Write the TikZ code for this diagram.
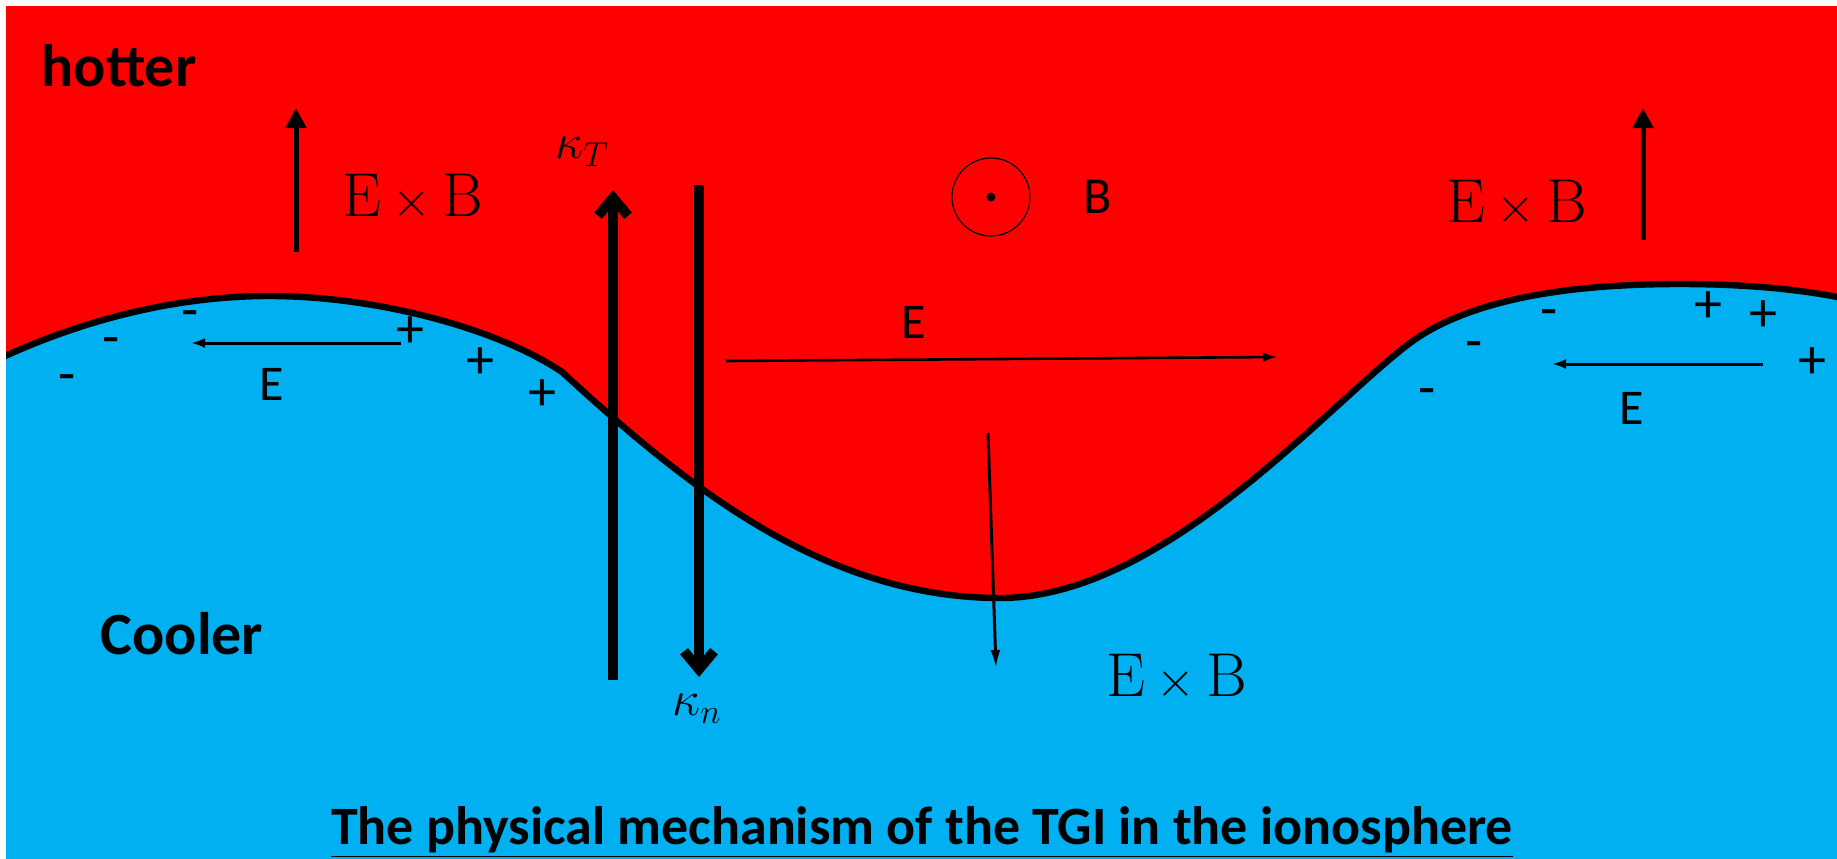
\documentclass[tikz,border=0pt]{standalone}
\usepackage{fontspec}
\newfontfamily\calibri{Carlito}
\usetikzlibrary{arrows.meta}
\definecolor{hotred}{RGB}{255,0,0}
\definecolor{coolblue}{RGB}{0,176,240}

\begin{document}
\begin{tikzpicture}[x=0.5pt,y=-0.5pt,
  region/.style={inner sep=0pt,font=\calibri\bfseries\fontsize{30}{34}\selectfont},
  exb/.style={inner sep=0pt,font=\fontsize{31}{35}\selectfont},
  kap/.style={inner sep=0pt,font=\fontsize{24}{28}\selectfont},
  elbl/.style={inner sep=0pt,font=\calibri\fontsize{25}{29}\selectfont},
  charge/.style={inner sep=0pt,font=\calibri\fontsize{28}{32}\selectfont},
  drift/.style={line width=2.5pt,-{Triangle[length=10pt,width=10pt]}},
  grad/.style={line width=5pt,-{Straight Barb[length=9pt,width=15pt]}},
  field/.style={line width=1.5pt,-{Latex[length=7pt,width=5pt]}}]
\useasboundingbox (0,0) rectangle (1837,858);
\fill[white] (0,0) rectangle (1837,858);
\fill[hotred] (6,6) rectangle (1837,858);

% interface between hot and cool plasma
\begin{scope}
\clip (6,6) rectangle (1837,858);
\filldraw[fill=coolblue,line width=3.2pt] (-20,368) .. controls (80,318) and (180,296) .. (269,296)
  .. controls (380,296) and (500,330) .. (562,372)
  .. controls (680,480) and (820,598) .. (1000,598)
  .. controls (1160,598) and (1320,413) .. (1406,346)
  .. controls (1470,296) and (1580,284) .. (1680,284)
  .. controls (1760,284) and (1820,292) .. (1860,302)
  -- (1860,880) -- (-20,880) -- cycle;
\end{scope}

\node[region] (hot) at (119,66) {hotter};
\node[region] (cool) at (182,634) {Cooler};

\node[exb] (exbL) at (413,197) {$\mathrm{E}\times\mathrm{B}$};
\node[exb] (exbR) at (1517,203) {$\mathrm{E}\times\mathrm{B}$};
\node[exb] (exbD) at (1177,677) {$\mathrm{E}\times\mathrm{B}$};
\node[kap] (kT) at (582,152) {$\kappa_T$};
\node[kap] (kn) at (697,709) {$\kappa_n$};

\node[draw,circle,line width=0.6pt,minimum size=39pt,inner sep=0pt] (Bsym) at (991,197) {};
\fill (Bsym.center) circle (2.2pt);
\node[elbl,font=\calibri\fontsize{26}{30}\selectfont] (B) at (1098,197) {B};

\node[elbl] (EL) at (272,384) {E};
\node[elbl] (EM) at (914,322) {E};
\node[elbl] (ER) at (1632,408) {E};

% charges along the crests
\foreach \x/\y in {67/384,111/347,190/320,1427/398,1474/351,1549/319}
  \node[charge] at (\x,\y) {-};
\foreach \x/\y in {410/332,480/363,542/395,1708/307,1763/316,1812/363}
  \node[charge] at (\x,\y) {+};

% arrows
\coordinate (upL0) at (296,252);
\coordinate (upL1) at (296,108);
\coordinate (upR0) at (1643,240);
\coordinate (upR1) at (1643,108);
\coordinate (kT0) at (613,680);
\coordinate (kT1) at (613,190);
\coordinate (kn0) at (699,185);
\coordinate (kn1) at (699,677);
\coordinate (dn0) at (988,433);
\coordinate (dn1) at (996,668);
\coordinate (eM0) at (726,361);
\coordinate (eM1) at (1277,357);
\coordinate (eL0) at (401,343);
\coordinate (eL1) at (191,343);
\coordinate (eR0) at (1763,364);
\coordinate (eR1) at (1552,364);

\draw[drift] (upL0) -- (upL1);
\draw[drift] (upR0) -- (upR1);
\draw[grad] (kT0) -- (kT1);
\draw[grad] (kn0) -- (kn1);
\draw[field,-{Latex[length=9pt,width=5pt]}] (dn0) -- (dn1);
\draw[field,line width=1.3pt] (eM0) -- (eM1);
\draw[field] (eL0) -- (eL1);
\draw[field] (eR0) -- (eR1);

\node[inner sep=0pt,font=\calibri\bfseries\fontsize{27}{32}\selectfont] (title) at (922,832)
  {\underline{The physical mechanism of the TGI in the ionosphere}};
\end{tikzpicture}
\end{document}
